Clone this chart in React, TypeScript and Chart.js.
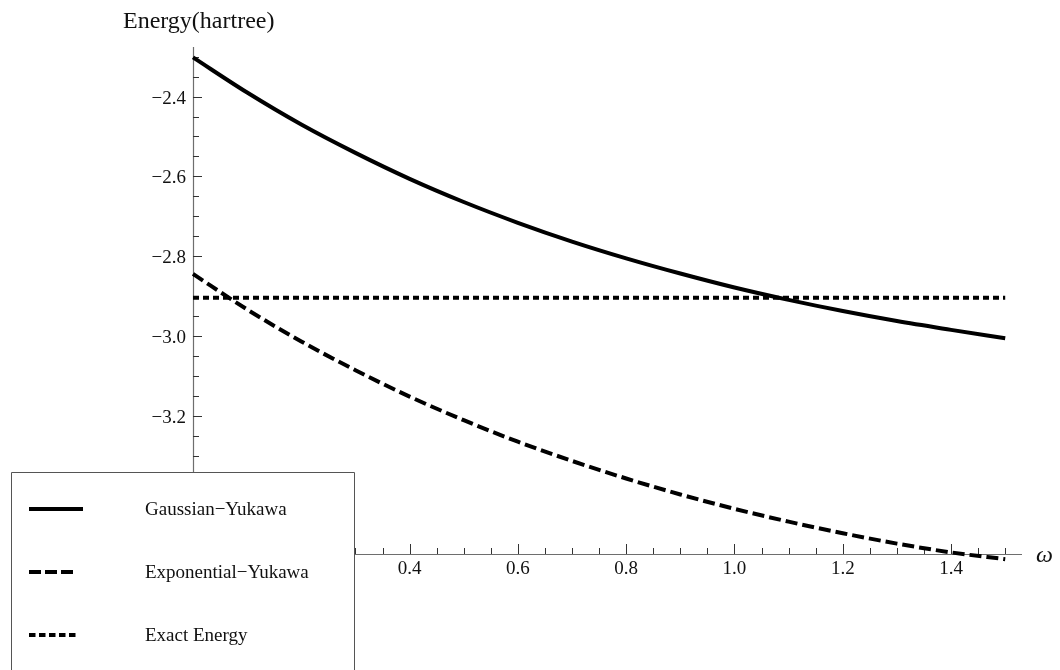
import React, { useEffect, useRef } from "react";
import { Chart, registerables } from "chart.js";

Chart.register(...registerables);

// ---- data ----
const omega = [0, 0.1, 0.2, 0.3, 0.4, 0.5, 0.6, 0.7, 0.8, 0.9, 1.0, 1.1, 1.2, 1.3, 1.4, 1.5];
const gaussianYukawa = [-2.302, -2.390, -2.470, -2.541, -2.606, -2.664, -2.716, -2.763, -2.805, -2.843, -2.878, -2.909, -2.937, -2.962, -2.984, -3.005];
const exponentialYukawa = [-2.844, -2.933, -3.013, -3.085, -3.151, -3.210, -3.264, -3.312, -3.356, -3.396, -3.432, -3.464, -3.493, -3.519, -3.541, -3.558];
const exactOmega = [0, 1.5];
const exactEnergy = [-2.9037, -2.9037];

const xTickValues = [0.4, 0.6, 0.8, 1.0, 1.2, 1.4];
const xTickLabels = ["0.4", "0.6", "0.8", "1.0", "1.2", "1.4"];
const yTickValues = [-2.4, -2.6, -2.8, -3.0, -3.2, -3.4];
const yTickLabels = ["\u22122.4", "\u22122.6", "\u22122.8", "\u22123.0", "\u22123.2", "\u22123.4"];
const seriesNames = ["Gaussian\u2212Yukawa", "Exponential\u2212Yukawa", "Exact Energy"];
const yAxisTitle = "Energy(hartree)";
const xAxisTitle = "\u03c9";

const X_MIN = 0;
const X_MAX = 1.531;
const Y_MIN = -3.545;
const Y_MAX = -2.276;

const DASHED = [12, 5];
const DOTTED = [6, 4];
const SERIF = "'Liberation Serif', 'Times New Roman', serif";

const axesPlugin = {
  id: "mathAxes",
  beforeDatasetsDraw(chart: any) {
    const { ctx, scales } = chart;
    const x = scales.x;
    const y = scales.y;
    const x0 = x.getPixelForValue(0);
    const yb = y.getPixelForValue(Y_MIN);
    const xr = x.getPixelForValue(X_MAX);
    const yt = y.getPixelForValue(Y_MAX);
    ctx.save();
    // axis lines
    ctx.strokeStyle = "#6e6e6e";
    ctx.lineWidth = 1.2;
    ctx.beginPath();
    ctx.moveTo(x0, yb + 0.5);
    ctx.lineTo(xr, yb + 0.5);
    ctx.moveTo(x0 + 0.5, yt);
    ctx.lineTo(x0 + 0.5, yb);
    ctx.stroke();
    // x ticks (every 0.05, major every 0.2)
    ctx.strokeStyle = "#333";
    ctx.lineWidth = 1;
    ctx.beginPath();
    for (let k = 1; k <= 30; k++) {
      const px = Math.round(x.getPixelForValue(k * 0.05)) + 0.5;
      const len = k % 4 === 0 ? 10 : 6;
      ctx.moveTo(px, yb);
      ctx.lineTo(px, yb - len);
    }
    // y ticks
    for (let k = 46; k <= 70; k++) {
      const v = -k * 0.05;
      const py = Math.round(y.getPixelForValue(v)) + 0.5;
      const len = k % 4 === 0 ? 9 : 6;
      ctx.moveTo(x0, py);
      ctx.lineTo(x0 + len, py);
    }
    ctx.stroke();
    // tick labels
    ctx.fillStyle = "#111";
    ctx.font = "19px " + SERIF;
    ctx.textAlign = "center";
    ctx.textBaseline = "middle";
    xTickValues.forEach((v, i) => {
      ctx.fillText(xTickLabels[i], x.getPixelForValue(v), yb + 15);
    });
    ctx.textAlign = "right";
    yTickValues.forEach((v, i) => {
      ctx.fillText(yTickLabels[i], x0 - 7, y.getPixelForValue(v) + 2);
    });
    // axis titles
    ctx.font = "24px " + SERIF;
    ctx.textAlign = "left";
    ctx.fillText(yAxisTitle, 123, 22);
    ctx.font = "italic 24px " + SERIF;
    ctx.fillText(xAxisTitle, 1036, yb + 2);
    ctx.restore();
  },
  afterDraw(chart: any) {
    const { ctx } = chart;
    ctx.save();
    const L = 11, T = 472, R = 354, B = 672;
    ctx.fillStyle = "#fff";
    ctx.fillRect(L, T, R - L, B - T);
    ctx.strokeStyle = "#555";
    ctx.lineWidth = 1;
    ctx.beginPath();
    ctx.moveTo(L + 0.5, B);
    ctx.lineTo(L + 0.5, T + 0.5);
    ctx.lineTo(R + 0.5, T + 0.5);
    ctx.lineTo(R + 0.5, B);
    ctx.stroke();
    const rows = [509, 572, 635];
    const dashes = [[], [12, 4], [6.5, 3.5]];
    ctx.strokeStyle = "#000";
    ctx.lineWidth = 4;
    ctx.lineCap = "butt";
    rows.forEach((ry, i) => {
      ctx.setLineDash(dashes[i]);
      ctx.beginPath();
      ctx.moveTo(29, ry);
      ctx.lineTo(i === 1 ? 77 : i === 2 ? 79 : 83, ry);
      ctx.stroke();
    });
    ctx.setLineDash([]);
    ctx.fillStyle = "#111";
    ctx.font = "19px " + SERIF;
    ctx.textAlign = "left";
    ctx.textBaseline = "middle";
    rows.forEach((ry, i) => {
      ctx.fillText(seriesNames[i], 145, ry + 1);
    });
    ctx.restore();
  },
};

export default function App() {
  const ref = useRef<HTMLCanvasElement | null>(null);
  useEffect(() => {
    if (!ref.current) return;
    const toXY = (xs: number[], ys: number[]) => xs.map((v, i) => ({ x: v, y: ys[i] }));
    const chart = new Chart(ref.current, {
      type: "line",
      data: {
        datasets: [
          {
            label: seriesNames[0],
            data: toXY(omega, gaussianYukawa),
            borderColor: "#000",
            borderWidth: 4,
            pointRadius: 0,
            cubicInterpolationMode: "monotone",
            fill: false,
            clip: false as any,
          },
          {
            label: seriesNames[1],
            data: toXY(omega, exponentialYukawa),
            borderColor: "#000",
            borderWidth: 4,
            borderDash: DASHED,
            borderCapStyle: "butt",
            pointRadius: 0,
            cubicInterpolationMode: "monotone",
            fill: false,
            clip: false as any,
          },
          {
            label: seriesNames[2],
            data: toXY(exactOmega, exactEnergy),
            borderColor: "#000",
            borderWidth: 4,
            borderDash: DOTTED,
            borderCapStyle: "butt",
            pointRadius: 0,
            fill: false,
            clip: false as any,
          },
        ],
      },
      options: {
        animation: false,
        responsive: false,
        devicePixelRatio: 1,
        layout: { padding: { left: 193, top: 47, right: 38, bottom: 116 } },
        scales: {
          x: { type: "linear", min: X_MIN, max: X_MAX, display: false },
          y: { type: "linear", min: Y_MIN, max: Y_MAX, display: false },
        },
        plugins: { legend: { display: false }, tooltip: { enabled: false } },
        events: [],
      },
      plugins: [axesPlugin],
    });
    return () => chart.destroy();
  }, []);
  return (
    <div style={{ position: "absolute", left: 0, top: 0, width: 1060, height: 670, background: "#fff" }}>
      <canvas ref={ref} width={1060} height={670} style={{ display: "block" }} />
    </div>
  );
}
